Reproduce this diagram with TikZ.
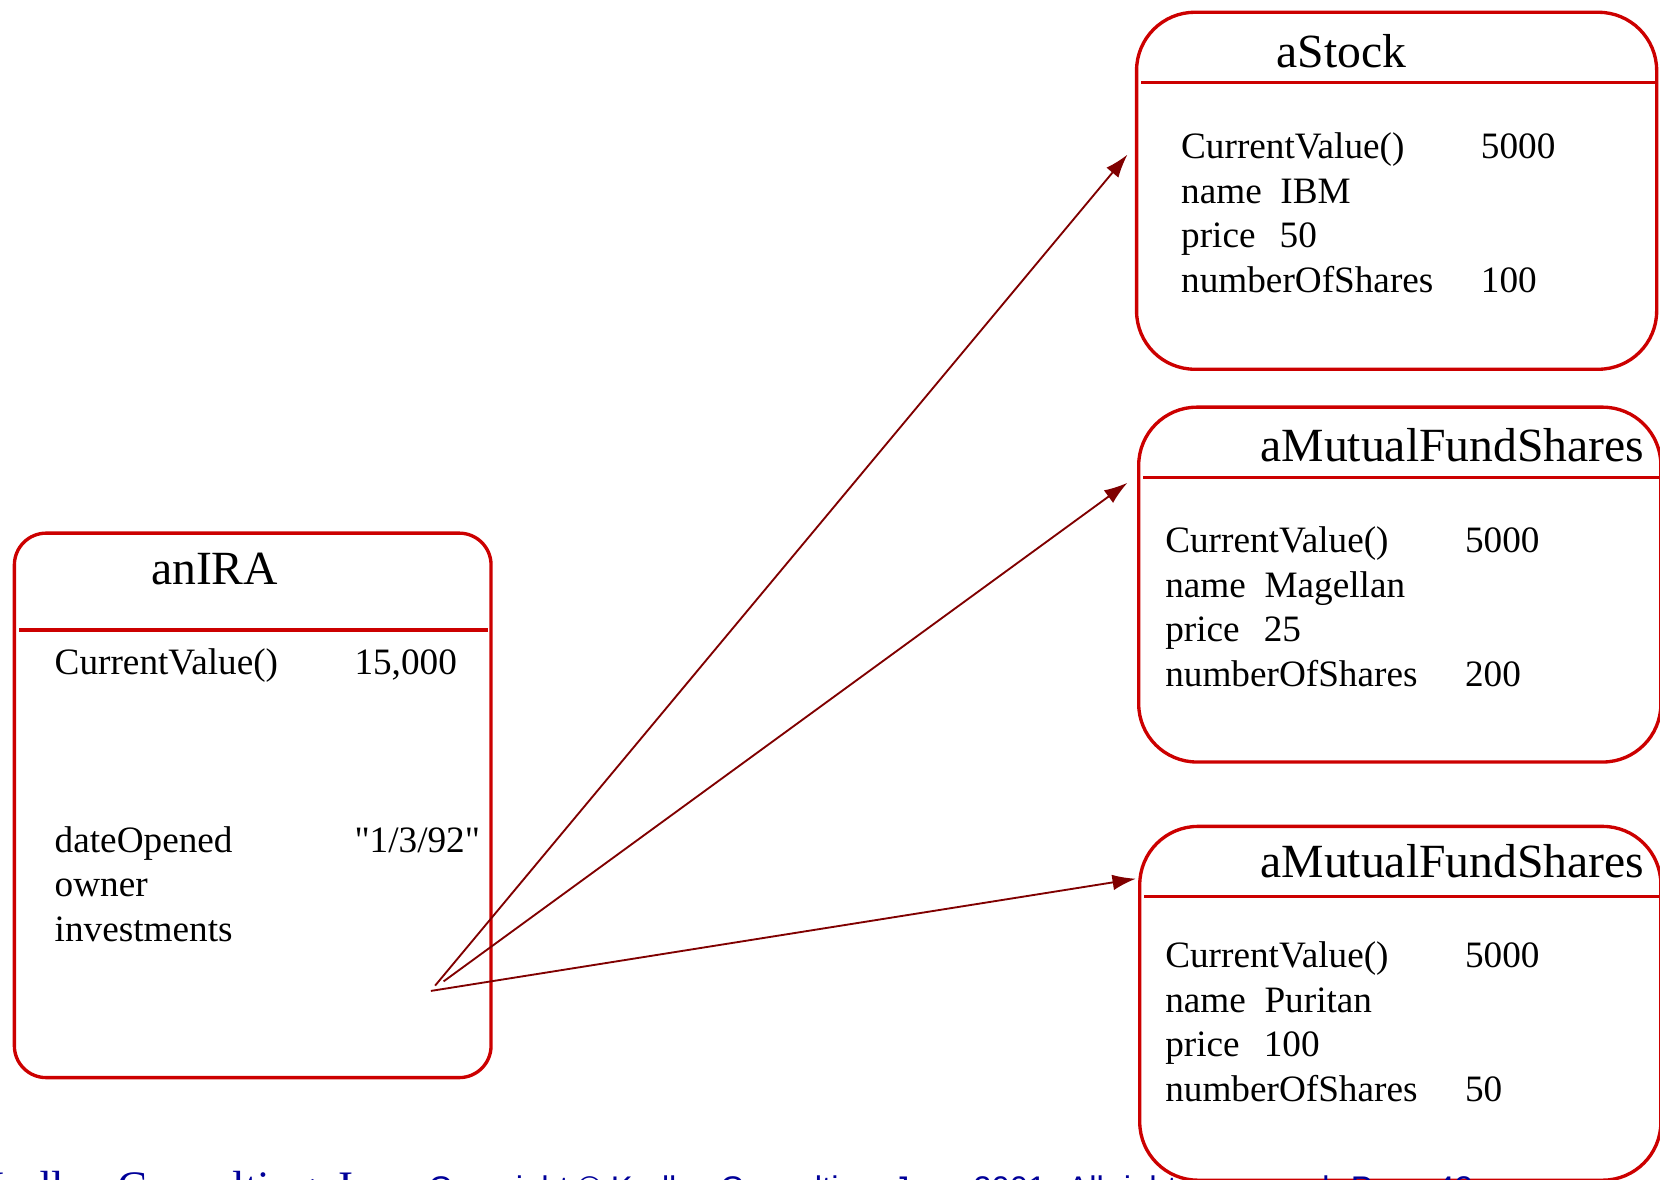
\documentclass[tikz,border=0pt]{standalone}
\usepackage{fontspec}
\setmainfont{Liberation Serif}
\setsansfont{Liberation Sans}
\usepackage{tikz}
\usetikzlibrary{shapes,arrows.meta,positioning}
\usepackage{color}

\definecolor{boxred}{RGB}{204,0,0}
\definecolor{linkred}{RGB}{128,0,0}
\definecolor{footblue}{RGB}{0,0,153}

\tikzset{
	objbox/.style={rectangle,draw=boxred,line width=0.9pt,rounded corners=0.55cm,anchor=north west,inner sep=0pt},
	sepline/.style={draw=boxred,line width=0.9pt},
	objtitle/.style={anchor=base west,inner sep=0pt,font=\fontsize{12.8}{15}\selectfont},
	objbody/.style={anchor=base west,inner sep=0pt,font=\fontsize{10}{11.95}\selectfont},
	link/.style={draw=linkred,line width=0.5pt,-{Latex[length=6.3pt,width=4.2pt]}},
	foot/.style={anchor=base west,inner sep=0pt,text=footblue}
}

\begin{document}
\begin{tikzpicture}[x=0.01cm,y=-0.01cm]
	\path[use as bounding box,clip] (0,0) rectangle (1568,1114);
	%% the objects
	\node[objbox,minimum width=4.50cm,minimum height=5.14cm,rounded corners=0.3cm] (ira) at (12,502) {};
	\node[objbox,minimum width=4.91cm,minimum height=3.37cm] (stock) at (1072,10) {};
	\node[objbox,minimum width=4.93cm,minimum height=3.35cm] (fundA) at (1074,383) {};
	\node[objbox,minimum width=4.92cm,minimum height=3.34cm] (fundB) at (1075,779) {};
	%% the names
	\node[objtitle] (iratitle) at ([shift={(130,50)}]ira.north west) {anIRA};
	\node[objtitle] (stocktitle) at ([shift={(133,54)}]stock.north west) {aStock};
	\node[objtitle] (fundAtitle) at ([shift={(116,53)}]fundA.north west) {aMutualFundShares};
	\node[objtitle] (fundBtitle) at ([shift={(115,50)}]fundB.north west) {aMutualFundShares};
	\draw[sepline] ([shift={(6,93)}]ira.north west) -- ([shift={(-4,93)}]ira.north east);
	\draw[sepline] ([shift={(6,68)}]stock.north west) -- ([shift={(0,68)}]stock.north east);
	\draw[sepline] ([shift={(6,68)}]fundA.north west) -- ([shift={(0,68)}]fundA.north east);
	\draw[sepline] ([shift={(6,68)}]fundB.north west) -- ([shift={(0,68)}]fundB.north east);
	%% the attributes
	\node[objbody] (iraattr) at ([shift={(39,135)}]ira.north west) {\begin{tabular}[t]{@{}p{2.83cm}@{}l@{}}
		CurrentValue() & 15,000\\
		& \\
		& \\
		& \\
		dateOpened & {\addfontfeatures{Ligatures=TeXOff}"1/3/92"}\\
		owner & \\
		investments &
	\end{tabular}};
	\node[objbody] (stockattr) at ([shift={(43,140)}]stock.north west) {\begin{tabular}[t]{@{}p{2.83cm}@{}l@{}}
		CurrentValue() & 5000\\
		name\hspace{0.5em}IBM & \\
		price\hspace{0.65em}50 & \\
		numberOfShares & 100
	\end{tabular}};
	\node[objbody] (fundAattr) at ([shift={(26,139)}]fundA.north west) {\begin{tabular}[t]{@{}p{2.83cm}@{}l@{}}
		CurrentValue() & 5000\\
		name\hspace{0.5em}Magellan & \\
		price\hspace{0.65em}25 & \\
		numberOfShares & 200
	\end{tabular}};
	\node[objbody] (fundBattr) at ([shift={(25,135)}]fundB.north west) {\begin{tabular}[t]{@{}p{2.83cm}@{}l@{}}
		CurrentValue() & 5000\\
		name\hspace{0.5em}Puritan & \\
		price\hspace{0.65em}100 & \\
		numberOfShares & 50
	\end{tabular}};
	%% the links from investments
	\coordinate (fromstock) at (411,931);
	\coordinate (fromfundA) at (419,927);
	\coordinate (fromfundB) at (407,936);
	\draw[link] (fromstock) -- ([shift={(-7,136)}]stock.north west);
	\draw[link] (fromfundA) -- ([shift={(-9,73)}]fundA.north west);
	\draw[link] (fromfundB) -- ([shift={(-2,51)}]fundB.north west);
	%% footer
	\node[foot,anchor=base east,font=\fontsize{12.1}{14}\selectfont] (firm) at (385,1136) {Kudley Consulting, Inc.};
	\node[foot,font=\sffamily\fontsize{8.8}{10}\selectfont] (rights) at (404,1133) {Copyright \textcopyright{} Kudley Consulting, June 2001. All rights reserved. Page 42};
\end{tikzpicture}
\end{document}
